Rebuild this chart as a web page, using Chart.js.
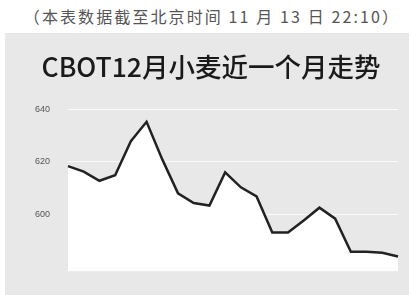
<!DOCTYPE html>
<html>
<head>
<meta charset="utf-8">
<script src="https://cdn.jsdelivr.net/npm/chart.js@4"></script>
<style>
    body { margin: 0; background: #fff; width: 409px; height: 295px; overflow: hidden; position: relative; }
    #note { position: absolute; left: 0; width: 400px; top: 4px; text-align: right; font: 16px "Noto Sans CJK SC", sans-serif; letter-spacing: 2.1px; color: #555; white-space: nowrap; }
    #panel { position: absolute; left: 5px; top: 33px; width: 404px; height: 262px; background: #e8e8e8; }
</style>
</head>
<body>
<div id="note">（本表数据截至北京时间 11 月 13 日 22:10）</div>
<div id="panel"><canvas id="lineChart" width="404" height="262"></canvas></div>
<script>
// 近一个月每日收盘（估读）
const days = ['D1','D2','D3','D4','D5','D6','D7','D8','D9','D10','D11','D12','D13','D14','D15','D16','D17','D18','D19','D20','D21','D22'];
const prices = [618.4, 616.3, 612.8, 614.9, 628, 635.4, 621, 608, 604.3, 603.3, 616, 610.3, 606.8, 593, 593, 597.6, 602.5, 598.3, 585.6, 585.6, 585.2, 583.8];
const yTicks = [600, 620, 640];

const ctx = document.getElementById('lineChart').getContext('2d');
new Chart(ctx, {
    type: 'line',
    data: {
        labels: days,
        datasets: [{
            data: prices,
            borderColor: '#222',
            borderWidth: 2.5,
            backgroundColor: '#fff',
            fill: 'start',
            pointRadius: 0,
            tension: 0
        }]
    },
    options: {
        responsive: false,
        animation: false,
        layout: { padding: { left: 19, right: 11, bottom: 10 } },
        plugins: {
            legend: { display: false },
            tooltip: { enabled: false },
            title: {
                display: true,
                text: 'CBOT12月小麦近一个月走势',
                color: '#1a1a1a',
                font: { size: 26.5, family: '"Noto Sans CJK SC", sans-serif', weight: 500 },
                padding: { top: 18, bottom: 27 }
            }
        },
        scales: {
            x: { display: false },
            y: {
                min: 578,
                max: 640,
                border: { display: false },
                grid: { color: 'rgba(255,255,255,0.8)', drawTicks: false },
                afterBuildTicks: function(scale) {
                    scale.ticks = yTicks.map(v => ({ value: v }));
                },
                afterFit: function(scale) { scale.width = 44; },
                ticks: { color: '#555', padding: 18, font: { size: 9 } }
            }
        }
    }
});
</script>
</body>
</html>
